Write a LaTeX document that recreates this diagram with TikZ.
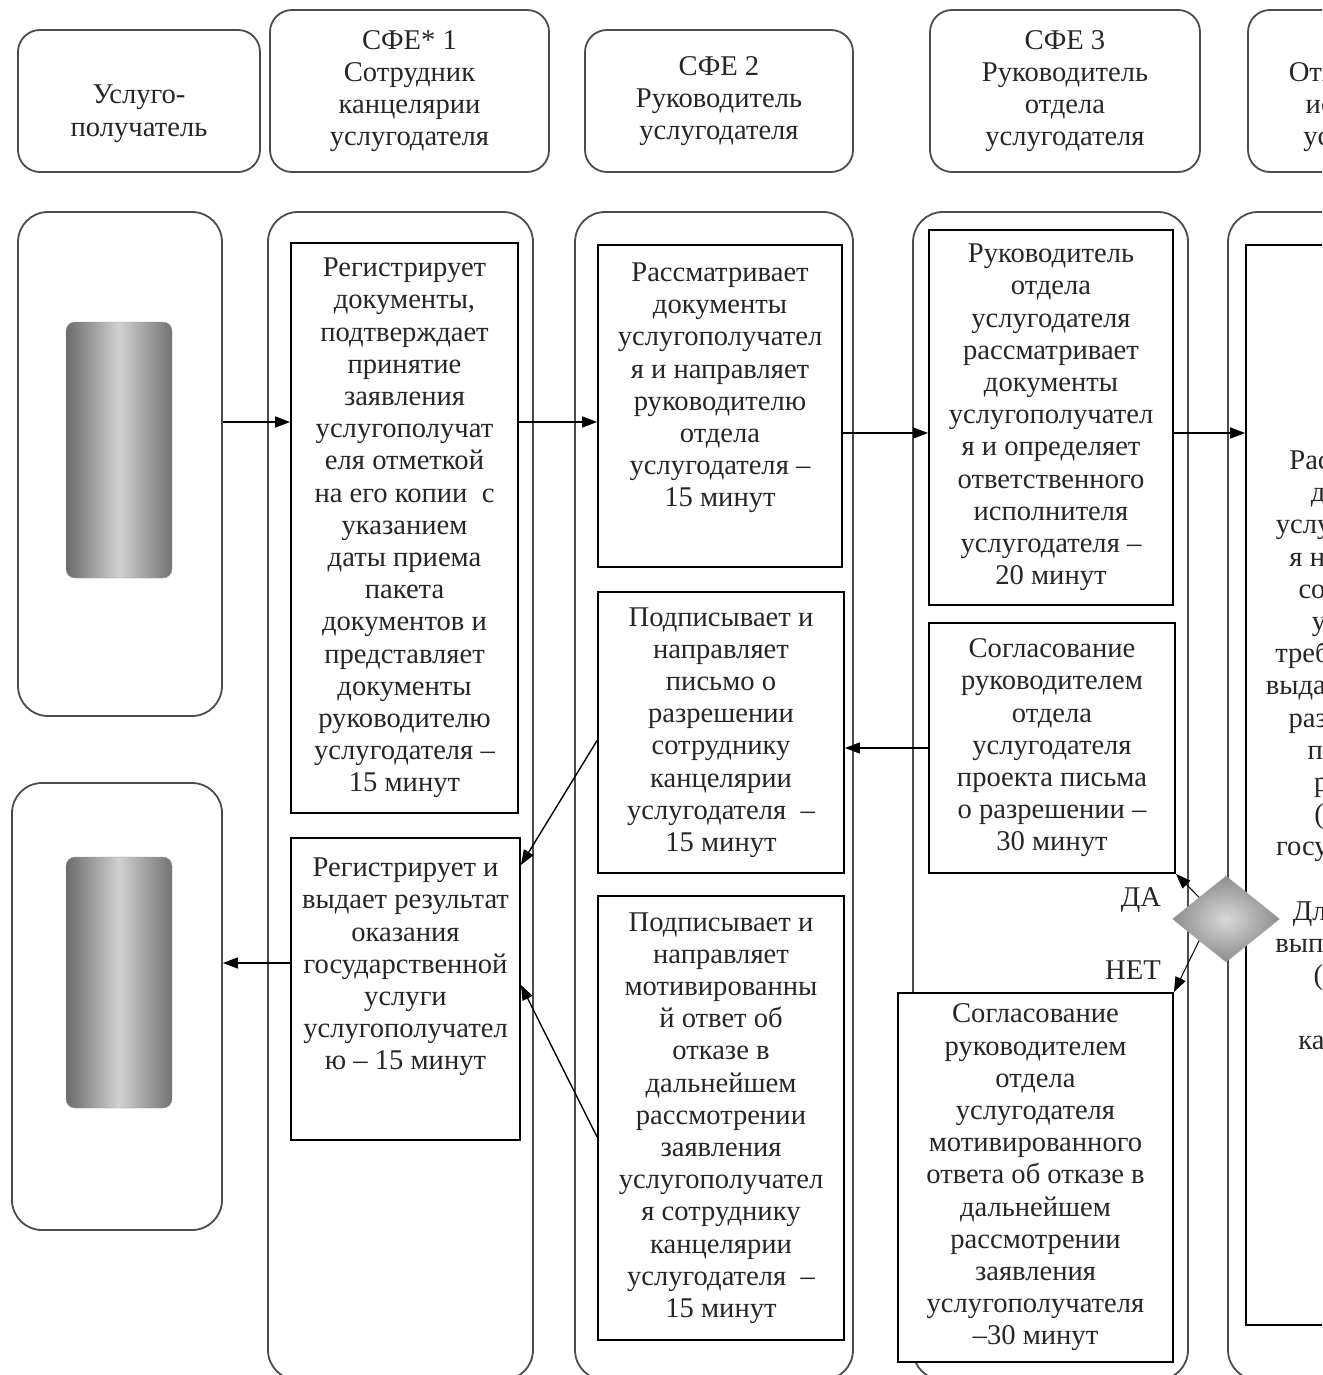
\documentclass[tikz,border=0pt]{standalone}
\usepackage{fontspec}
\setmainfont{Liberation Serif}
\usetikzlibrary{shapes.geometric, arrows.meta, calc}

\begin{document}
\begin{tikzpicture}[x=1pt, y=-1pt,
  every node/.style={font=\fontsize{28.6}{32.2}\selectfont, text=black!85},
  head/.style={draw=black!70, line width=1.8pt, rounded corners=22pt, align=center},
  lane/.style={draw=black!70, line width=1.8pt, rounded corners=30pt},
  gblock/.style={rounded corners=9pt, draw=black!40, left color=black!58, right color=black!55, middle color=black!18},
  proc/.style={draw=black, line width=1.8pt, fill=white, align=center, inner sep=2pt},
  dec/.style={diamond, draw=black!35, inner color=black!15, outer color=black!45, inner sep=0pt},
  arr/.style={line width=1.4pt, -{Triangle[length=15pt, width=11pt]}}]

  \clip (0,0) rectangle (1322,1375);

  % header
  \node[head, minimum width=242, minimum height=142] (pol) at (139,101) {\mbox{}\\[12pt]Услуго-\\получатель};
  \node[head, minimum width=279, minimum height=162] (sfe1) at (409.5,91) {СФЕ* 1\\Сотрудник\\канцелярии\\услугодателя};
  \node[head, minimum width=268, minimum height=142] (sfe2) at (719,101) {СФЕ 2\\Руководитель\\услугодателя};
  \node[head, minimum width=270, minimum height=162] (sfe3) at (1065,91) {СФЕ 3\\Руководитель\\отдела\\услугодателя};
  \node[head, minimum width=270, minimum height=162] (sfe4) at (1383,91) {СФЕ 4\\Ответственный\\исполнитель\\услугодателя};

  % lanes
  \node[lane, minimum width=204, minimum height=504] (cl1) at (120,464) {};
  \node[lane, minimum width=210, minimum height=447] (cl2) at (117,1006.5) {};
  \node[lane, minimum width=265, minimum height=1168] (ln1) at (400.5,796) {};
  \node[lane, minimum width=278, minimum height=1168] (ln2) at (714,796) {};
  \node[lane, minimum width=275, minimum height=1168] (ln3) at (1050.5,796) {};
  \node[lane, minimum width=272, minimum height=1168] (ln4) at (1364,796) {};

  \node[gblock, minimum width=106, minimum height=256] (gb1) at (119,450) {};
  \node[gblock, minimum width=106, minimum height=251] (gb2) at (119,982.5) {};

  % steps
  \node[proc, minimum width=227, minimum height=570] (reg) at (404.5,528) {Регистрирует\\документы,\\подтверждает\\принятие\\заявления\\услугополучат\\еля отметкой\\на его копии~~с\\указанием\\даты приема\\пакета\\документов и\\представляет\\документы\\руководителю\\услугодателя –\\15 минут};
  \node[proc, minimum width=229, minimum height=302] (vyd) at (405.5,989) {Регистрирует и\\выдает результат\\оказания\\государственной\\услуги\\услугополучател\\ю – 15 минут\\[18pt]\mbox{}};
  \node[proc, minimum width=244, minimum height=322] (ras) at (720,406) {Рассматривает\\документы\\услугополучател\\я и направляет\\руководителю\\отдела\\услугодателя –\\15 минут\\[10pt]\mbox{}};
  \node[proc, minimum width=246, minimum height=281] (pis) at (721,732.5) {Подписывает и\\направляет\\письмо о\\разрешении\\сотруднику\\канцелярии\\услугодателя~~–\\15 минут};
  \node[proc, minimum width=246, minimum height=444] (otk) at (721,1118) {Подписывает и\\направляет\\мотивированны\\й ответ об\\отказе в\\дальнейшем\\рассмотрении\\заявления\\услугополучател\\я сотруднику\\канцелярии\\услугодателя~~–\\15 минут};
  \node[proc, minimum width=244, minimum height=375] (opr) at (1051,417.5) {Руководитель\\отдела\\услугодателя\\рассматривает\\документы\\услугополучател\\я и определяет\\ответственного\\исполнителя\\услугодателя –\\20 минут};
  \node[proc, minimum width=246, minimum height=250] (sog) at (1052,748) {Согласование\\руководителем\\отдела\\услугодателя\\проекта письма\\о разрешении –\\30 минут};
  \node[proc, minimum width=275, minimum height=369] (mot) at (1035.5,1177.5) {Согласование\\руководителем\\отдела\\услугодателя\\мотивированного\\ответа об отказе в\\дальнейшем\\рассмотрении\\заявления\\услугополучателя\\–30 минут};
  \node[proc, minimum width=264, minimum height=1080] (isp) at (1378,785) {Рассматривает\\документы\\услугополучател\\я на полноту и\\соответствие\\указанным\\требованиям для\\выдачи или отказа\\разрешения на\\проведения\\результата\\(оказания)\\государственной\\услуги\\Длительность\\выполнения – 30\\(тридцать)\\минут\\календарных\\[38pt]\mbox{}};

  \node[dec, minimum width=107, minimum height=86] (dia) at (1226,919) {};
  \node (da) at (1141,900) {ДА};
  \node (net) at (1133,970) {НЕТ};

  % arrows
  \coordinate (a1) at ([yshift=42pt]cl1.east);
  \draw[arr] (a1) -- (a1 -| reg.west);
  \coordinate (a2) at ([yshift=106pt]reg.east);
  \draw[arr] (a2) -- (a2 -| ras.west);
  \coordinate (a3) at ([yshift=-27pt]ras.east);
  \draw[arr] (a3) -- (a3 -| opr.west);
  \coordinate (a4) at ([yshift=-15.5pt]opr.east);
  \draw[arr] (a4) -- (a4 -| isp.west);
  \draw[arr] (sog.west) -- (sog.west -| pis.east);
  \draw[arr] ([yshift=-8pt]pis.west) -- ([yshift=124pt]vyd.east);
  \draw[arr] ([yshift=-19pt]otk.west) -- ([yshift=4pt]vyd.east);
  \coordinate (a8) at ([yshift=26pt]vyd.west);
  \draw[arr] (a8) -- (a8 -| cl2.east);
  \draw[arr, line width=1pt] (dia.north west) -- (sog.south east);
  \draw[arr, line width=1pt] (dia.south west) -- (mot.north east);
\end{tikzpicture}
\end{document}
